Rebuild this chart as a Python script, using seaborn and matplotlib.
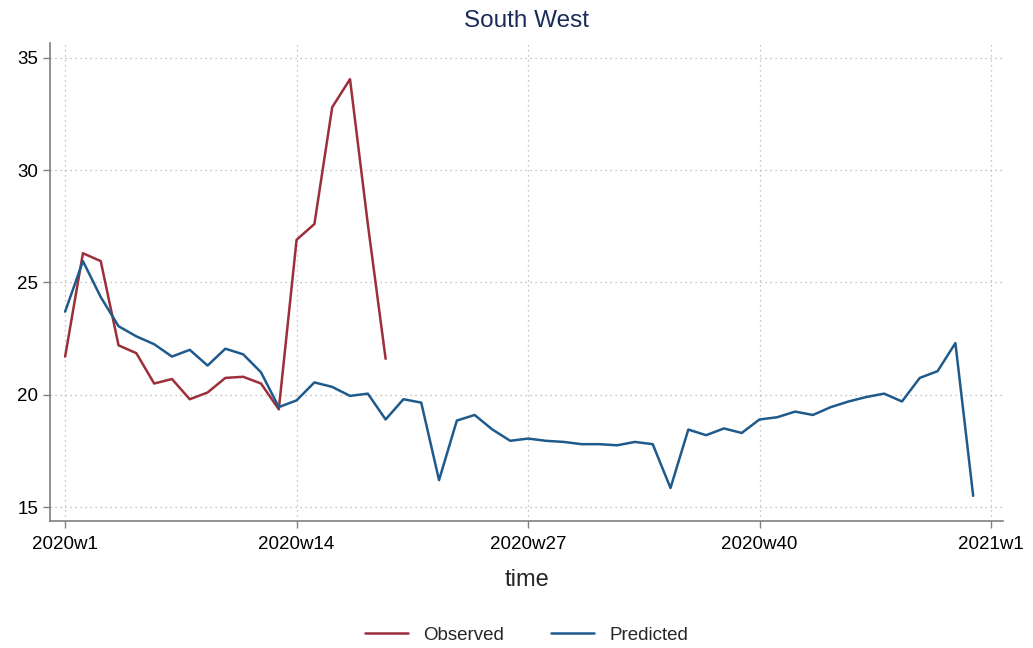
import numpy as np
import pandas as pd
import matplotlib
matplotlib.use("Agg")
import matplotlib.pyplot as plt
import seaborn as sns

# Weekly values (week index 1 = 2020w1)
observed = [21.7, 26.3, 25.95, 22.2, 21.85, 20.5, 20.7, 19.8, 20.1, 20.75,
            20.8, 20.5, 19.35, 26.9, 27.6, 32.8, 34.05, 27.6, 21.6]
predicted = [23.7, 25.95, 24.35, 23.05, 22.6, 22.25, 21.7, 22.0, 21.3, 22.05,
             21.8, 21.0, 19.45, 19.75, 20.55, 20.35, 19.95, 20.05, 18.9, 19.8,
             19.65, 16.2, 18.85, 19.1, 18.45, 17.95, 18.05, 17.95, 17.9, 17.8,
             17.8, 17.75, 17.9, 17.8, 15.85, 18.45, 18.2, 18.5, 18.3, 18.9,
             19.0, 19.25, 19.1, 19.45, 19.7, 19.9, 20.05, 19.7, 20.75, 21.05,
             22.3, 15.5]
tick_weeks = [1, 14, 27, 40, 53]
tick_labels = ["2020w1", "2020w14", "2020w27", "2020w40", "2021w1"]
y_ticks = [15, 20, 25, 30, 35]

df = pd.concat([
    pd.DataFrame({"week": np.arange(1, len(observed) + 1), "value": observed, "series": "Observed"}),
    pd.DataFrame({"week": np.arange(1, len(predicted) + 1), "value": predicted, "series": "Predicted"}),
])

sns.set_theme(style="white")
plt.rcParams['font.family'] = ['Liberation Sans', 'DejaVu Sans']

fig = plt.figure(figsize=(10.33, 6.48), dpi=100)
ax = fig.add_axes([0.0484, 0.196, 0.923, 0.738])

palette = {"Observed": "#9b2f3a", "Predicted": "#1f5a8c"}
sns.lineplot(data=df, x="week", y="value", hue="series", palette=palette,
             linewidth=1.8, ax=ax, legend=True)

ax.set_xlim(0.15, 53.7)
ax.set_ylim(14.38, 35.67)
ax.set_xticks(tick_weeks)
ax.set_xticklabels(tick_labels, fontsize=13.5)
ax.set_yticks(y_ticks)
ax.set_yticklabels([str(t) for t in y_ticks], fontsize=13.5)
ax.grid(True, linestyle=(0, (1, 3)), color="#b0b0b0", linewidth=0.9)

for side in ["top", "right"]:
    ax.spines[side].set_visible(False)
for side in ["left", "bottom"]:
    ax.spines[side].set_color("#808080")
    ax.spines[side].set_linewidth(1.2)
ax.tick_params(axis="x", pad=6)
ax.tick_params(axis="both", direction="out", length=5, width=1, color="#808080",
               labelcolor="black", bottom=True, left=True)

ax.set_xlabel("time", fontsize=17, labelpad=11)
ax.set_ylabel("")
ax.set_title("South West", fontsize=17.5, color="#1a2b5a", pad=11)

handles, labels = ax.get_legend_handles_labels()
ax.legend(handles, labels, loc="upper center", bbox_to_anchor=(0.5, -0.186),
          ncol=2, frameon=False, fontsize=13.5, handlelength=2.3, columnspacing=2.5)

fig.savefig("out.png", dpi=100)
